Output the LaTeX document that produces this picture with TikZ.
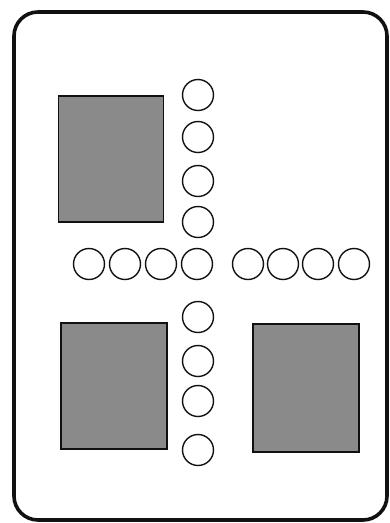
\documentclass[tikz,border=0pt]{standalone}
\usepackage{tikz}
\usetikzlibrary{positioning,calc}
\definecolor{ink}{HTML}{111111}
\definecolor{dots}{HTML}{8A8A8A}

\begin{document}
\begin{tikzpicture}[
  x=1pt, y=-1pt,
  card/.style  = {draw=ink, line width=3.6pt, rounded corners=24pt},
  block/.style = {draw=ink, fill=dots, line width=1.4pt, inner sep=0pt},
  hole/.style  = {draw=ink, fill=white, circle, line width=1.4pt,
                  minimum size=31pt, inner sep=0pt},
]
\useasboundingbox (0,0) rectangle (390,523);

% ---- outer card -------------------------------------------------------
\draw[card] (14,12) rectangle (387,520);

% ---- shaded blocks ----------------------------------------------------
\node[block, minimum width=105pt, minimum height=126pt] at (111,159) (tl) {};
\node[block, minimum width=106pt, minimum height=126pt] at (114,386) (bl) {};
\node[block, minimum width=106pt, minimum height=128pt] at (306,388) (br) {};

% ---- circles: column and row ------------------------------------------
\foreach \y [count=\i] in {95,137,181,222,317,361,401,450}
  \node[hole] at (198,\y) (c\i) {};
\foreach \x [count=\i] in {89,125,161,197,248,283,318,354}
  \node[hole] at (\x,264) (r\i) {};

\end{tikzpicture}
\end{document}
